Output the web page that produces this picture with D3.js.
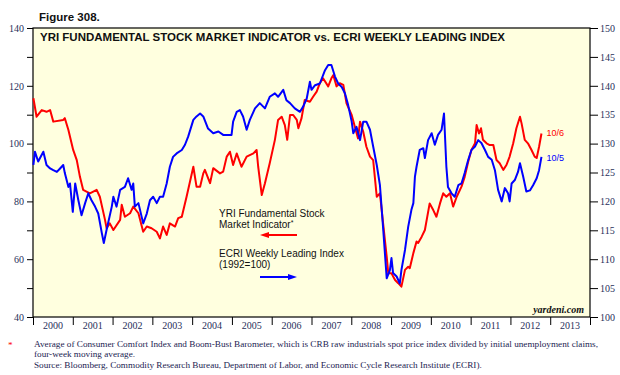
<!DOCTYPE html>
<html>
<head>
<meta charset="utf-8">
<script src="https://cdn.jsdelivr.net/npm/d3@7"></script>
<style>
  body { margin: 0; background: #fff; }
  svg { display: block; }
  .tick text { font-family: "Liberation Serif", "DejaVu Serif", serif; font-size: 10px; fill: #28305a; }
</style>
</head>
<body>
<div id="chart"></div>
<script>
// YRI Fundamental Stock Market Indicator (left axis), decimal years
var yriTime = [2000.01, 2000.09, 2000.22, 2000.34, 2000.43, 2000.51, 2000.76, 2000.80, 2000.89, 2001.01,
  2001.10, 2001.18, 2001.26, 2001.43, 2001.60, 2001.68, 2001.81, 2001.85, 2001.93, 2002.02,
  2002.19, 2002.23, 2002.31, 2002.44, 2002.52, 2002.65, 2002.77, 2002.86, 2002.98, 2003.11,
  2003.19, 2003.27, 2003.36, 2003.44, 2003.57, 2003.65, 2003.74, 2003.86, 2004.03, 2004.11,
  2004.20, 2004.28, 2004.32, 2004.45, 2004.53, 2004.70, 2004.78, 2004.87, 2004.95, 2005.03,
  2005.12, 2005.24, 2005.37, 2005.54, 2005.62, 2005.66, 2005.75, 2005.83, 2005.95, 2006.08,
  2006.16, 2006.25, 2006.33, 2006.39, 2006.46, 2006.54, 2006.63, 2006.67, 2006.75, 2006.83,
  2006.96, 2007.04, 2007.13, 2007.21, 2007.29, 2007.42, 2007.50, 2007.55, 2007.63, 2007.71,
  2007.80, 2007.88, 2008.01, 2008.09, 2008.17, 2008.22, 2008.30, 2008.38, 2008.47, 2008.55,
  2008.64, 2008.72, 2008.80, 2008.89, 2008.93, 2009.01, 2009.10, 2009.18, 2009.26, 2009.35,
  2009.43, 2009.47, 2009.56, 2009.64, 2009.68, 2009.77, 2009.85, 2009.97, 2010.06, 2010.14,
  2010.23, 2010.31, 2010.39, 2010.48, 2010.56, 2010.65, 2010.77, 2010.85, 2010.94, 2011.02,
  2011.11, 2011.15, 2011.21, 2011.26, 2011.31, 2011.40, 2011.48, 2011.57, 2011.65, 2011.73,
  2011.82, 2011.90, 2011.98, 2012.07, 2012.15, 2012.24, 2012.28, 2012.36, 2012.44, 2012.53,
  2012.61, 2012.66, 2012.72, 2012.78];
var yriValues = [115.7, 109.3, 111.6, 111.0, 111.6, 107.6, 108.2, 108.8, 104.7, 97.8,
  94.3, 88.5, 84.0, 82.8, 84.0, 81.6, 73.6, 70.7, 72.4, 70.1,
  73.6, 78.8, 74.7, 75.9, 78.2, 75.9, 69.5, 71.3, 70.7, 69.5,
  67.2, 71.3, 68.4, 72.4, 71.3, 74.2, 74.7, 81.6, 92.0, 85.1,
  85.1, 89.7, 90.9, 86.3, 91.5, 89.7, 90.3, 95.5, 97.2, 92.6,
  96.6, 92.0, 95.5, 96.6, 97.8, 92.0, 82.2, 86.3, 93.2, 101.3,
  108.2, 109.3, 106.4, 101.3, 109.9, 109.9, 108.2, 105.3, 108.8, 115.1,
  114.5, 116.2, 118.0, 120.9, 122.6, 119.8, 122.6, 123.7, 119.8, 120.9,
  120.3, 113.9, 109.9, 105.8, 101.8, 107.6, 104.1, 98.9, 95.5, 94.3,
  81.6, 82.8, 72.4, 60.9, 55.1, 55.1, 52.8, 51.7, 50.5, 56.3,
  57.4, 56.9, 62.1, 66.1, 65.6, 67.8, 70.1, 79.3, 77.0, 74.7,
  79.3, 82.8, 81.6, 82.8, 78.2, 81.6, 85.1, 88.5, 93.8, 97.8,
  100.1, 106.4, 103.5, 105.3, 101.3, 100.1, 99.5, 99.5, 94.3, 93.2,
  90.9, 92.6, 95.5, 100.1, 105.3, 109.3, 107.0, 101.3, 100.1, 97.8,
  95.5, 95.0, 98.9, 103.5];

// ECRI Weekly Leading Index (right axis, 1992=100), decimal years
var ecriTime = [2000.01, 2000.05, 2000.13, 2000.26, 2000.34, 2000.43, 2000.51, 2000.60, 2000.68, 2000.76,
  2000.80, 2000.89, 2000.93, 2001.00, 2001.06, 2001.14, 2001.22, 2001.31, 2001.39, 2001.47,
  2001.56, 2001.64, 2001.73, 2001.78, 2001.85, 2001.98, 2002.02, 2002.10, 2002.19, 2002.31,
  2002.39, 2002.48, 2002.52, 2002.56, 2002.65, 2002.77, 2002.86, 2002.94, 2003.02, 2003.11,
  2003.19, 2003.27, 2003.36, 2003.44, 2003.52, 2003.61, 2003.74, 2003.82, 2003.90, 2004.03,
  2004.11, 2004.20, 2004.28, 2004.40, 2004.53, 2004.66, 2004.78, 2004.99, 2005.03, 2005.12,
  2005.20, 2005.28, 2005.37, 2005.45, 2005.58, 2005.70, 2005.83, 2005.95, 2006.08, 2006.16,
  2006.29, 2006.37, 2006.46, 2006.58, 2006.71, 2006.79, 2006.88, 2006.96, 2007.00, 2007.09,
  2007.21, 2007.34, 2007.42, 2007.50, 2007.59, 2007.67, 2007.76, 2007.84, 2007.92, 2008.01,
  2008.05, 2008.13, 2008.22, 2008.30, 2008.38, 2008.47, 2008.55, 2008.64, 2008.72, 2008.80,
  2008.89, 2008.97, 2009.01, 2009.05, 2009.14, 2009.22, 2009.26, 2009.35, 2009.43, 2009.51,
  2009.56, 2009.60, 2009.64, 2009.72, 2009.81, 2009.85, 2009.93, 2010.02, 2010.10, 2010.18,
  2010.27, 2010.33, 2010.39, 2010.43, 2010.52, 2010.60, 2010.69, 2010.77, 2010.85, 2010.94,
  2011.02, 2011.11, 2011.19, 2011.27, 2011.36, 2011.44, 2011.53, 2011.61, 2011.69, 2011.78,
  2011.86, 2011.94, 2011.98, 2012.03, 2012.11, 2012.19, 2012.24, 2012.32, 2012.40, 2012.49,
  2012.57, 2012.66, 2012.72, 2012.78];
var ecriValues = [126.3, 128.6, 126.9, 128.6, 126.3, 125.7, 125.4, 125.1, 125.7, 126.3,
  124.9, 122.5, 123.1, 118.2, 123.1, 120.2, 117.6, 119.7, 121.4, 120.2,
  119.1, 117.9, 114.5, 112.8, 115.1, 119.1, 120.8, 119.1, 122.0, 122.5,
  124.0, 122.0, 123.1, 119.1, 119.7, 116.2, 117.9, 120.2, 120.8, 119.7,
  120.8, 120.8, 123.1, 126.0, 127.7, 128.3, 128.9, 129.8, 131.2, 134.1,
  134.7, 135.2, 134.7, 132.6, 131.8, 132.1, 131.5, 131.5, 133.8, 135.5,
  135.8, 134.7, 132.4, 134.1, 136.1, 137.0, 136.1, 138.1, 138.7, 138.1,
  139.3, 137.5, 137.0, 136.1, 135.5, 136.4, 137.8, 140.7, 139.3, 140.1,
  140.4, 142.7, 143.6, 143.6, 141.6, 140.4, 139.8, 138.7, 136.7, 133.8,
  131.8, 132.9, 130.6, 133.8, 133.8, 132.4, 129.5, 126.3, 122.8, 115.4,
  106.7, 108.1, 110.2, 107.6, 107.0, 105.8, 108.1, 111.6, 115.6, 118.5,
  119.7, 124.3, 126.0, 128.9, 129.2, 127.5, 130.6, 131.8, 129.8, 131.5,
  132.4, 135.2, 126.0, 122.5, 121.4, 120.8, 122.8, 123.1, 124.9, 127.2,
  128.9, 129.5, 130.6, 130.1, 128.9, 127.7, 127.2, 125.4, 122.0, 120.0,
  122.3, 121.4, 120.0, 123.1, 123.7, 125.1, 126.6, 124.3, 121.7, 121.9,
  122.8, 124.0, 125.4, 127.7];

var years = d3.range(2000, 2014);
var leftTicks = d3.range(40, 141, 10);
var rightTicks = d3.range(100, 151, 5);

var svgWidth = 620;
var svgHeight = 375;

var margin = { top: 28, right: 30, bottom: 58, left: 33 };
var width = svgWidth - margin.left - margin.right;
var height = svgHeight - margin.top - margin.bottom;

var svg = d3.select("#chart")
  .append("svg")
  .attr("width", svgWidth)
  .attr("height", svgHeight);

var chartGroup = svg.append("g")
  .attr("transform", `translate(${margin.left}, ${margin.top})`);

// scales
var xScale = d3.scaleLinear().domain([2000, 2014]).range([0, width]);
var yLeft = d3.scaleLinear().domain([40, 140]).range([height, 0]);
var yRight = d3.scaleLinear().domain([100, 150]).range([height, 0]);

// plot background
chartGroup.append("rect")
  .attr("width", width)
  .attr("height", height)
  .attr("fill", "#ffffdf");

// axes
chartGroup.append("g")
  .call(d3.axisLeft(yLeft).tickValues(leftTicks).tickSize(6).tickPadding(3)
    .tickFormat(d => d % 20 === 0 ? d : ""))
  .call(g => g.select(".domain").remove())
  .call(g => g.selectAll(".tick line").attr("stroke", "#000"));

chartGroup.append("g")
  .attr("transform", `translate(${width}, 0)`)
  .call(d3.axisRight(yRight).tickValues(rightTicks).tickSize(8).tickPadding(2))
  .call(g => g.select(".domain").remove())
  .call(g => g.selectAll(".tick line").attr("stroke", "#000"));

chartGroup.append("g")
  .attr("transform", `translate(0, ${height})`)
  .call(d3.axisBottom(xScale).tickValues(years.concat([2014])).tickSize(8).tickFormat(""))
  .call(g => g.select(".domain").remove())
  .call(g => g.selectAll(".tick line").attr("stroke", "#000"));

chartGroup.append("g").selectAll("text")
  .data(years)
  .enter()
  .append("text")
  .attr("x", d => xScale(d + 0.5))
  .attr("y", height + 12)
  .attr("text-anchor", "middle")
  .style("font-family", "Liberation Serif, serif")
  .style("font-size", "10px")
  .attr("fill", "#28305a")
  .text(d => d);

// frame
chartGroup.append("rect")
  .attr("width", width)
  .attr("height", height)
  .attr("fill", "none")
  .attr("stroke", "#000")
  .attr("stroke-width", 1.2);

// lines
var yriLine = d3.line()
  .x((d, i) => xScale(yriTime[i]))
  .y(d => yLeft(d));

var ecriLine = d3.line()
  .x((d, i) => xScale(ecriTime[i]))
  .y(d => yRight(d));

chartGroup.append("path")
  .datum(yriValues)
  .attr("d", yriLine)
  .attr("fill", "none")
  .attr("stroke", "#ff0000")
  .attr("stroke-width", 2)
  .attr("stroke-linejoin", "round");

chartGroup.append("path")
  .datum(ecriValues)
  .attr("d", ecriLine)
  .attr("fill", "none")
  .attr("stroke", "#0000ff")
  .attr("stroke-width", 2)
  .attr("stroke-linejoin", "round");

// end labels
var lastYri = yriValues.length - 1;
var lastEcri = ecriValues.length - 1;
chartGroup.append("text")
  .attr("x", xScale(yriTime[lastYri]) + 5)
  .attr("y", yLeft(yriValues[lastYri]) + 3)
  .style("font-family", "Liberation Sans, Arial, sans-serif")
  .style("font-size", "9px")
  .attr("fill", "#ff0000")
  .text("10/6");

chartGroup.append("text")
  .attr("x", xScale(ecriTime[lastEcri]) + 5)
  .attr("y", yRight(ecriValues[lastEcri]) + 4)
  .style("font-family", "Liberation Sans, Arial, sans-serif")
  .style("font-size", "9px")
  .attr("fill", "#0000ff")
  .text("10/5");

// chart title inside plot
chartGroup.append("text")
  .attr("x", 7)
  .attr("y", 13)
  .attr("textLength", 465)
  .attr("lengthAdjust", "spacingAndGlyphs")
  .style("font-family", "Liberation Sans, Arial, sans-serif")
  .style("font-weight", "bold")
  .style("font-size", "11px")
  .attr("fill", "#111")
  .text("YRI FUNDAMENTAL STOCK MARKET INDICATOR vs. ECRI WEEKLY LEADING INDEX");

// legend
var legend = chartGroup.append("g")
  .style("font-family", "Liberation Sans, Arial, sans-serif")
  .style("font-size", "10px")
  .attr("fill", "#111");

legend.append("text").attr("x", 186).attr("y", 189).text("YRI Fundamental Stock");
var mi = legend.append("text").attr("x", 186).attr("y", 200).text("Market Indicator");
mi.append("tspan").attr("dy", -3).style("font-size", "7px").text("*");
legend.append("text").attr("x", 186).attr("y", 229).text("ECRI Weekly Leading Index");
legend.append("text").attr("x", 186).attr("y", 240).text("(1992=100)");

// arrows
function arrow(x1, x2, y, color) {
  var dir = x2 > x1 ? 1 : -1;
  chartGroup.append("line")
    .attr("x1", x1).attr("x2", x2 - dir * 6)
    .attr("y1", y).attr("y2", y)
    .attr("stroke", color)
    .attr("stroke-width", 2);
  chartGroup.append("path")
    .attr("d", `M${x2},${y} L${x2 - dir * 9},${y - 3} L${x2 - dir * 9},${y + 3} Z`)
    .attr("fill", color);
}
arrow(264, 227, 207, "#ff0000");
arrow(227, 264, 249, "#0000ff");

// yardeni.com
chartGroup.append("text")
  .attr("x", width - 6)
  .attr("y", height - 4)
  .attr("text-anchor", "end")
  .style("font-family", "Liberation Serif, serif")
  .style("font-style", "italic")
  .style("font-weight", "bold")
  .style("font-size", "10px")
  .attr("fill", "#111")
  .text("yardeni.com");

// figure heading
svg.append("text")
  .attr("x", 39)
  .attr("y", 21)
  .style("font-family", "Liberation Sans, Arial, sans-serif")
  .style("font-weight", "bold")
  .style("font-size", "11.5px")
  .attr("fill", "#111")
  .text("Figure 308.");

// footnotes
var notes = svg.append("g")
  .style("font-family", "Liberation Serif, serif")
  .style("font-size", "9.2px")
  .attr("fill", "#1c2352");

notes.append("text").attr("x", 8).attr("y", 348).attr("fill", "#ff0000").text("*");
notes.append("text").attr("x", 34).attr("y", 347)
  .attr("textLength", 564).attr("lengthAdjust", "spacingAndGlyphs")
  .text("Average of Consumer Comfort Index and Boom-Bust Barometer, which is CRB raw industrials spot price index divided by initial unemployment claims,");
notes.append("text").attr("x", 34).attr("y", 357).text("four-week moving average.");
notes.append("text").attr("x", 34).attr("y", 368)
  .text("Source: Bloomberg, Commodity Research Bureau, Department of Labor, and Economic Cycle Research Institute (ECRI).");
</script>
</body>
</html>
